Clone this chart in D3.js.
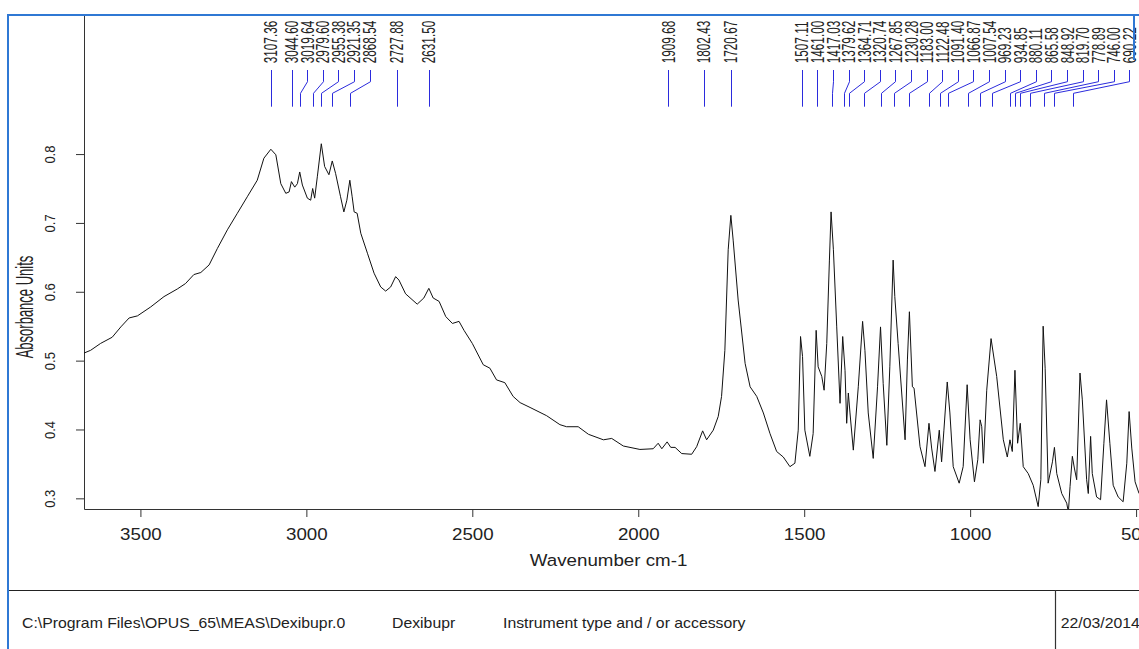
<!DOCTYPE html>
<html>
<head>
<meta charset="utf-8">
<script src="https://cdn.jsdelivr.net/npm/d3@7"></script>
<style>
  html, body { margin: 0; padding: 0; background: #fff; }
  svg { display: block; }
  svg text { font-family: "Liberation Sans", Arial, sans-serif; }
</style>
</head>
<body>
<svg width="1139" height="649"></svg>
<script>
'use strict'

// spectrum (cm-1, absorbance)
const WAVENUMBERS = [
  3670, 3650, 3620, 3585, 3559, 3534, 3509, 3469, 3429, 3389, 3364, 3339, 3318, 3293, 3268, 3238,
  3208, 3178, 3148, 3128, 3107, 3092, 3077, 3062, 3052, 3045, 3035, 3027, 3020, 3012, 2997, 2987,
  2981, 2975, 2967, 2955, 2945, 2932, 2922, 2912, 2897, 2887, 2878, 2869, 2862, 2856, 2847, 2836,
  2816, 2796, 2776, 2761, 2746, 2731, 2721, 2701, 2666, 2646, 2631, 2618, 2600, 2580, 2560, 2540,
  2525, 2500, 2467, 2447, 2427, 2402, 2377, 2356, 2326, 2276, 2236, 2216, 2181, 2150, 2105, 2080,
  2045, 1995, 1955, 1940, 1929, 1913, 1902, 1889, 1869, 1839, 1824, 1806, 1794, 1774, 1759, 1749,
  1739, 1729, 1721, 1714, 1699, 1678, 1663, 1643, 1623, 1603, 1583, 1563, 1543, 1528, 1518, 1511,
  1505, 1498, 1483, 1473, 1464, 1458, 1447, 1440, 1432, 1424, 1419, 1412, 1402, 1392, 1384, 1377,
  1372, 1367, 1362, 1352, 1337, 1324, 1317, 1307, 1292, 1279, 1270, 1262, 1251, 1242, 1232, 1227,
  1217, 1196, 1189, 1183, 1174, 1169, 1151, 1136, 1124, 1116, 1106, 1093, 1086, 1079, 1069, 1061,
  1051, 1033, 1021, 1009, 1000, 987, 977, 970, 965, 960, 950, 937, 920, 900, 888, 880,
  873, 865, 857, 849, 840, 825, 810, 795, 787, 780, 774, 765, 752, 746, 739, 724,
  709, 704, 699, 692, 686, 679, 669, 662, 649, 644, 637, 632, 619, 607, 597, 589,
  579, 569, 554, 539, 528, 521, 513, 503, 491
];
const ABSORBANCE = [
  0.511, 0.515, 0.525, 0.534, 0.549, 0.562, 0.565, 0.578, 0.593, 0.604, 0.612, 0.625, 0.628, 0.639, 0.663, 0.690,
  0.714, 0.738, 0.762, 0.794, 0.807, 0.799, 0.757, 0.743, 0.745, 0.760, 0.752, 0.757, 0.774, 0.755, 0.736, 0.733,
  0.750, 0.736, 0.767, 0.815, 0.782, 0.770, 0.790, 0.772, 0.738, 0.716, 0.733, 0.762, 0.738, 0.716, 0.714, 0.685,
  0.656, 0.627, 0.607, 0.601, 0.607, 0.622, 0.617, 0.597, 0.582, 0.591, 0.605, 0.591, 0.586, 0.564, 0.554, 0.557,
  0.544, 0.525, 0.494, 0.489, 0.472, 0.468, 0.448, 0.439, 0.432, 0.420, 0.407, 0.404, 0.404, 0.393, 0.385, 0.387,
  0.376, 0.371, 0.372, 0.380, 0.372, 0.382, 0.374, 0.374, 0.365, 0.364, 0.375, 0.398, 0.385, 0.399, 0.419, 0.448,
  0.515, 0.661, 0.711, 0.675, 0.588, 0.496, 0.462, 0.448, 0.424, 0.394, 0.368, 0.360, 0.346, 0.351, 0.399, 0.535,
  0.506, 0.399, 0.361, 0.394, 0.544, 0.491, 0.477, 0.457, 0.525, 0.646, 0.716, 0.661, 0.549, 0.438, 0.535, 0.486,
  0.409, 0.453, 0.424, 0.370, 0.462, 0.557, 0.515, 0.424, 0.358, 0.462, 0.549, 0.467, 0.377, 0.491, 0.646, 0.593,
  0.525, 0.385, 0.501, 0.571, 0.462, 0.460, 0.375, 0.346, 0.409, 0.373, 0.339, 0.399, 0.353, 0.399, 0.469, 0.424,
  0.346, 0.322, 0.346, 0.465, 0.385, 0.324, 0.356, 0.414, 0.404, 0.351, 0.457, 0.532, 0.477, 0.385, 0.360, 0.385,
  0.368, 0.486, 0.380, 0.409, 0.346, 0.336, 0.319, 0.288, 0.327, 0.550, 0.489, 0.322, 0.353, 0.374, 0.336, 0.307,
  0.293, 0.280, 0.317, 0.361, 0.344, 0.327, 0.482, 0.443, 0.327, 0.307, 0.390, 0.336, 0.302, 0.298, 0.380, 0.443,
  0.380, 0.319, 0.302, 0.295, 0.351, 0.426, 0.373, 0.324, 0.307
];

// peak picks printed at the top
const PEAKS = [
  3107.36, 3044.60, 3019.64, 2979.60, 2955.38, 2921.35, 2868.54, 2727.88, 2631.50,
  1909.68, 1802.43, 1720.67, 1507.11, 1461.00, 1417.03, 1379.62, 1364.71, 1320.74,
  1267.85, 1230.28, 1183.00, 1122.48, 1091.40, 1066.87, 1007.54, 969.23, 934.85,
  880.11, 865.58, 848.92, 819.70, 778.89, 746.00, 690.22
];

const X_TICKS = [3500, 3000, 2500, 2000, 1500, 1000, 500];
const Y_TICKS = [0.3, 0.4, 0.5, 0.6, 0.7, 0.8];
const FOOTER_TEXT = ['C:\\Program Files\\OPUS_65\\MEAS\\Dexibupr.0', 'Dexibupr', 'Instrument type and / or accessory'];
const FOOTER_X = [22, 392, 503];
const DATE = '22/03/2014';

const PLOT = { left: 84, right: 1139.4, top: 15, bottom: 509 };
const LABEL_GAP = 15.6;
const FRAME_BLUE = '#2f78d4';
const PEAK_BLUE = '#2b2bdd';

const svg = d3.select('svg');

const x = d3.scaleLinear().domain([3670, 490]).range([PLOT.left, PLOT.right]);
const y = d3.scaleLinear().domain([0.2845, 1.002]).range([PLOT.bottom, PLOT.top]);

svg.append('defs').append('clipPath').attr('id', 'plot-clip')
  .append('rect')
  .attr('x', PLOT.left).attr('y', PLOT.top)
  .attr('width', PLOT.right - PLOT.left).attr('height', PLOT.bottom - PLOT.top);

// x axis
const xAxis = svg.append('g')
  .attr('transform', `translate(0,${PLOT.bottom})`)
  .call(d3.axisBottom(x).tickValues(X_TICKS).tickSize(8).tickSizeOuter(0).tickFormat(d3.format('d')));
xAxis.select('.domain').attr('stroke', '#333');
xAxis.selectAll('.tick line').attr('stroke', '#333');
xAxis.selectAll('.tick text')
  .attr('y', null).attr('dy', null)
  .attr('transform', 'translate(0,31) scale(1.15,1)')
  .attr('font-size', 16.3)
  .attr('fill', '#222');

// y axis
const yAxis = svg.append('g')
  .attr('transform', `translate(${PLOT.left},0)`)
  .call(d3.axisLeft(y).tickValues(Y_TICKS).tickSize(8).tickSizeOuter(0).tickFormat(d3.format('.1f')));
yAxis.select('.domain').attr('stroke', '#333');
yAxis.selectAll('.tick line').attr('stroke', '#333');
yAxis.selectAll('.tick text')
  .attr('x', null).attr('dy', null)
  .attr('text-anchor', 'middle')
  .attr('transform', 'translate(-29,0) rotate(-90) scale(1,1.08)')
  .attr('font-size', 13)
  .attr('fill', '#222');

svg.append('text')
  .attr('transform', 'translate(33,307) rotate(-90) scale(1,1.85)')
  .attr('text-anchor', 'middle')
  .attr('font-size', 13)
  .attr('fill', '#222')
  .text('Absorbance Units');

svg.append('text')
  .attr('transform', 'translate(608.6,566) scale(1.15,1)')
  .attr('text-anchor', 'middle')
  .attr('font-size', 16.3)
  .attr('fill', '#222')
  .text('Wavenumber cm-1');

// spectrum
const line = d3.line().x(d => x(d[0])).y(d => y(d[1]));
svg.append('path')
  .datum(d3.zip(WAVENUMBERS, ABSORBANCE))
  .attr('clip-path', 'url(#plot-clip)')
  .attr('d', line)
  .attr('fill', 'none')
  .attr('stroke', '#111')
  .attr('stroke-width', 1);

// peak labels, pushed right so they don't overlap
let prev = -Infinity;
const peakPos = PEAKS.map(w => {
  const px = x(w);
  const lx = Math.max(px, prev + LABEL_GAP);
  prev = lx;
  return { w, px, lx };
});

const peaks = svg.append('g');
peaks.selectAll('path')
  .data(peakPos)
  .join('path')
  .attr('d', d => {
    const a = Math.round(d.lx) + 0.5;
    const b = Math.round(d.px) + 0.5;
    if (Math.abs(a - b) < 1) return `M${a},70V106.7`;
    return `M${a},70V81.7L${b},93.3V106.7`;
  })
  .attr('fill', 'none')
  .attr('stroke', PEAK_BLUE)
  .attr('stroke-width', 1);
peaks.selectAll('text')
  .data(peakPos)
  .join('text')
  .attr('transform', d => `translate(${d.lx + 6.5},63.3) rotate(-90) scale(1,1.55)`)
  .attr('font-size', 11.8)
  .attr('fill', '#222')
  .text(d => d.w.toFixed(2));

// footer
svg.append('line')
  .attr('x1', 8).attr('x2', 1139).attr('y1', 590.5).attr('y2', 590.5)
  .attr('stroke', '#222').attr('stroke-width', 1.2);
svg.append('line')
  .attr('x1', 1055.5).attr('x2', 1055.5).attr('y1', 590).attr('y2', 649)
  .attr('stroke', '#333').attr('stroke-width', 1.2);

svg.append('g').selectAll('text')
  .data(FOOTER_TEXT)
  .join('text')
  .attr('transform', (d, i) => `translate(${FOOTER_X[i]},628) scale(1.13,1)`)
  .attr('font-size', 14)
  .attr('fill', '#222')
  .text(d => d);

svg.append('text')
  .attr('transform', 'translate(1060.7,628) scale(1.13,1)')
  .attr('font-size', 14)
  .attr('fill', '#222')
  .text(DATE);

// blue outer frame
svg.append('path')
  .attr('d', 'M8,649V15H1139')
  .attr('fill', 'none')
  .attr('stroke', FRAME_BLUE)
  .attr('stroke-width', 2);
svg.append('line')
  .attr('x1', 1134).attr('x2', 1134).attr('y1', 14).attr('y2', 60)
  .attr('stroke', FRAME_BLUE).attr('stroke-width', 2);
</script>
</body>
</html>
